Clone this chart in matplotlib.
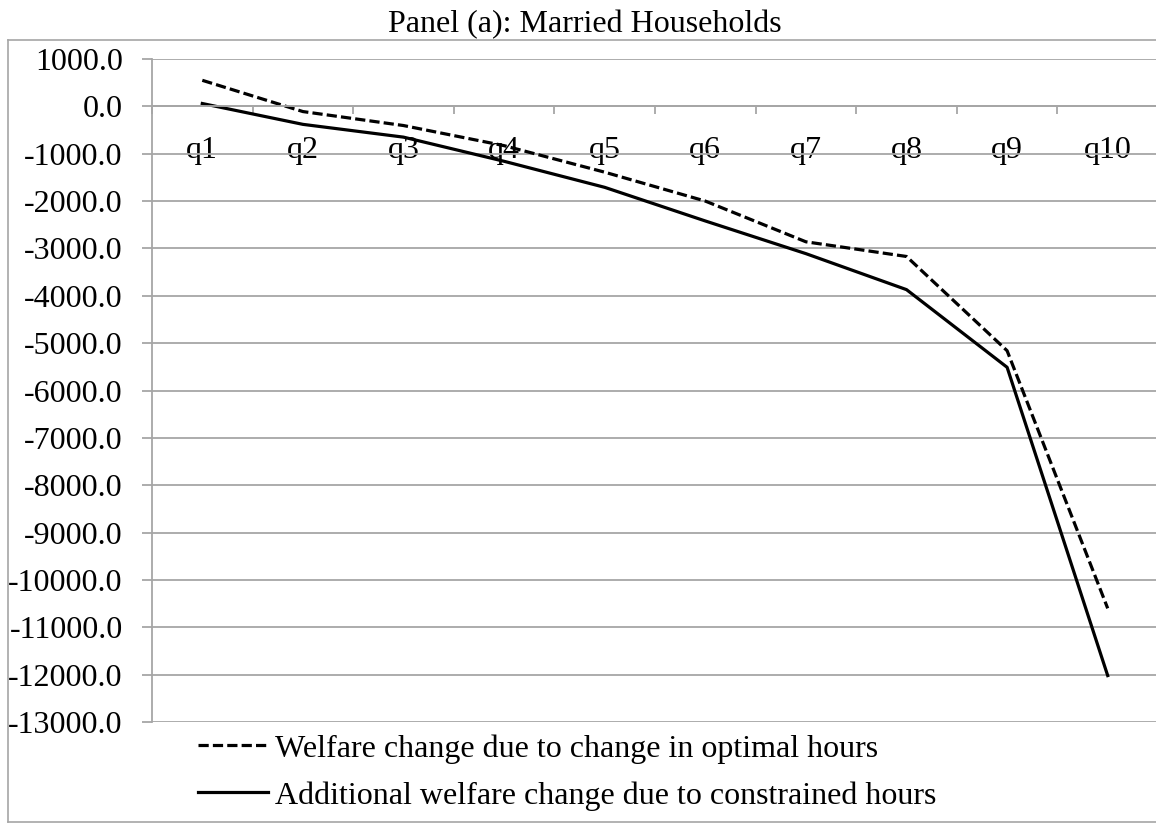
import matplotlib
matplotlib.use('Agg')
import matplotlib.pyplot as plt
from matplotlib.lines import Line2D
from matplotlib.ticker import FuncFormatter

plt.rcParams['font.family'] = ['Liberation Serif', 'DejaVu Serif']

quantiles = ['q1', 'q2', 'q3', 'q4', 'q5', 'q6', 'q7', 'q8', 'q9', 'q10']
optimal_hours = [550, -110, -405, -830, -1390, -2000, -2860, -3170, -5160, -10600]
constrained_hours = [60, -380, -650, -1160, -1710, -2420, -3110, -3870, -5510, -12020]
legend_labels = ['Welfare change due to change in optimal hours',
                 'Additional welfare change due to constrained hours']
title = 'Panel (a): Married Households'

grey = '#a6a6a6'
fs = 23
W, H = 1156, 823

fig = plt.figure(figsize=(11.56, 8.23), dpi=100)
ax = fig.add_axes([152 / W, 1 - 722 / H, 1006 / W, 663 / H])

# outer chart frame (right side runs off the image)
fl, ft, fb = 7.5 / W, 1 - 39.5 / H, 1 - 821.5 / H
for xs, ys in [([fl, fl], [fb, ft]), ([fl, 1.01], [ft, ft]), ([fl, 1.01], [fb, fb])]:
    fig.add_artist(Line2D(xs, ys, transform=fig.transFigure, color=grey, lw=1.2))

x = list(range(1, len(quantiles) + 1))
l1, = ax.plot(x, optimal_hours, color='black', lw=2.3, linestyle=(0, (3.2, 1.3)))
l2, = ax.plot(x, constrained_hours, color='black', lw=2.3)

ax.set_xlim(0.5, 10.5)
ax.set_ylim(-13000, 1000)
ax.set_yticks(range(-13000, 1001, 1000))
ax.yaxis.set_major_formatter(FuncFormatter(lambda v, p: '%.1f' % v))
ax.grid(axis='y', color=grey, lw=1.3)
ax.set_axisbelow(True)

for s in ['top', 'right']:
    ax.spines[s].set_visible(False)
ax.spines['left'].set_color(grey)
ax.spines['left'].set_linewidth(1.3)
ax.spines['bottom'].set_position(('data', 0))
ax.spines['bottom'].set_color(grey)
ax.spines['bottom'].set_linewidth(1.3)

ax.tick_params(axis='y', length=7, width=1.3, color=grey, pad=14, labelsize=fs)
ax.set_xticks([i + 0.5 for i in range(0, 11)])
ax.set_xticklabels([])
ax.tick_params(axis='x', which='major', length=6, width=1.3, color=grey)
ax.set_xticks(x, minor=True)
ax.set_xticklabels(quantiles, minor=True)
ax.tick_params(axis='x', which='minor', length=0, pad=21, labelsize=fs)

fig.text(0.506, 1 - 25 / H, title, ha='center', va='center', fontsize=fs)

fig.legend([l1, l2], legend_labels, loc='upper left',
           bbox_to_anchor=(198 / W, 1 - 734 / H), frameon=False,
           fontsize=fs, handlelength=2.2, handletextpad=0.2,
           borderpad=0, borderaxespad=0, labelspacing=0.55)

fig.savefig('out.png', dpi=100)
